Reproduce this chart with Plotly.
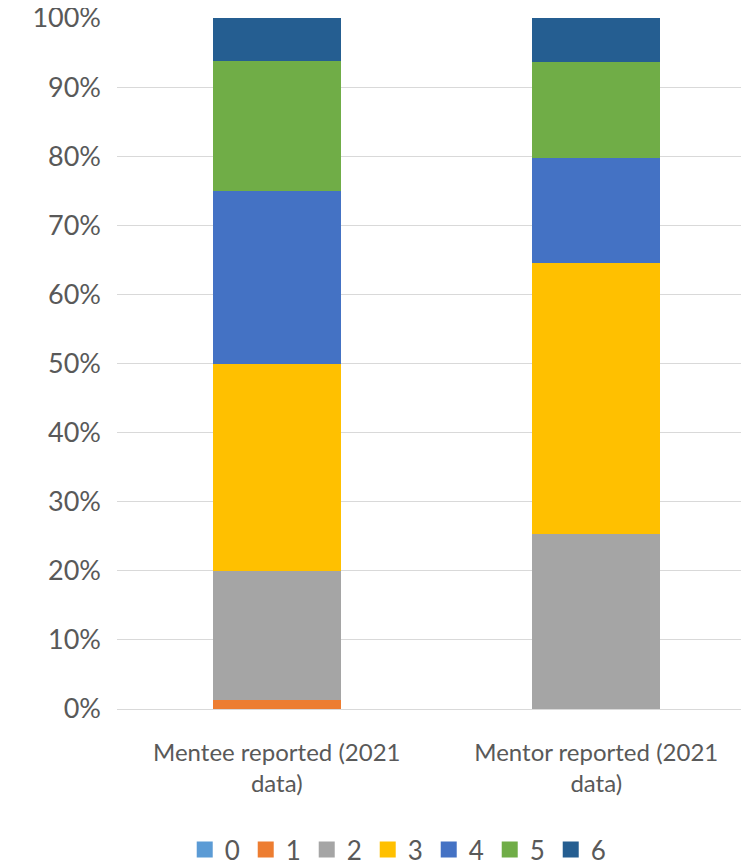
import plotly.graph_objects as go

# dados (percentual por categoria)
categorias = ["Mentee reported (2021<br>data)", "Mentor reported (2021<br>data)"]
series = ["0", "1", "2", "3", "4", "5", "6"]
mentee = [0.0, 1.25, 18.75, 30.0, 25.0, 18.75, 6.25]
mentor = [0.0, 0.0, 25.3, 39.2, 15.2, 13.9, 6.4]
cores = ["#5B9BD5", "#ED7D31", "#A5A5A5", "#FFC000", "#4472C4", "#70AD47", "#255E91"]
ticks_y = [0, 10, 20, 30, 40, 50, 60, 70, 80, 90, 100]
ticks_y_txt = [f"{v}%" for v in ticks_y]

fig = go.Figure()

for i, nome in enumerate(series):
    fig.add_trace(go.Bar(
        x=[0, 1],
        y=[mentee[i], mentor[i]],
        name=nome,
        legendgroup=nome,
        showlegend=False,
        marker=dict(color=cores[i], line_width=0),
        width=0.4,
    ))

# legenda com quadrados maiores (marcadores vazios só para a legenda)
for i, nome in enumerate(series):
    fig.add_trace(go.Scatter(
        x=[None], y=[None],
        mode="markers",
        name=nome,
        legendgroup=nome,
        marker=dict(symbol="square", size=18, color=cores[i]),
    ))

# a página tem 8px de margem no body; compensado nas margens abaixo
fig.update_layout(
    barmode="stack",
    width=749, height=865,
    margin=dict(l=109, r=1, t=10, b=164),
    plot_bgcolor="white",
    paper_bgcolor="white",
    font=dict(family="Lato, Open Sans, sans-serif", color="#595959", size=24),
    showlegend=True,
    legend=dict(
        orientation="h",
        xref="container",
        x=0.521, xanchor="center",
        yref="container",
        y=0.027, yanchor="middle",
        font=dict(size=26),
        itemwidth=30,
        entrywidth=16,
        entrywidthmode="pixels",
        traceorder="normal",
    ),
)

fig.update_xaxes(
    tickmode="array",
    tickvals=[0, 1],
    ticktext=categorias,
    range=[-0.5, 1.5],
    showgrid=False,
    showline=True,
    linecolor="#d9d9d9",
    linewidth=1,
    ticks="",
    ticklabelstandoff=22,
    automargin=False,
)

fig.update_yaxes(
    range=[0, 100],
    tickmode="array",
    tickvals=ticks_y,
    ticktext=ticks_y_txt,
    tickfont=dict(size=27),
    showgrid=True,
    gridcolor="#d9d9d9",
    gridwidth=1,
    zeroline=False,
    showline=False,
    ticks="",
    ticklabelstandoff=15,
    ticklabeloverflow="allow",
    automargin=False,
)

fig.write_html("out.html")
